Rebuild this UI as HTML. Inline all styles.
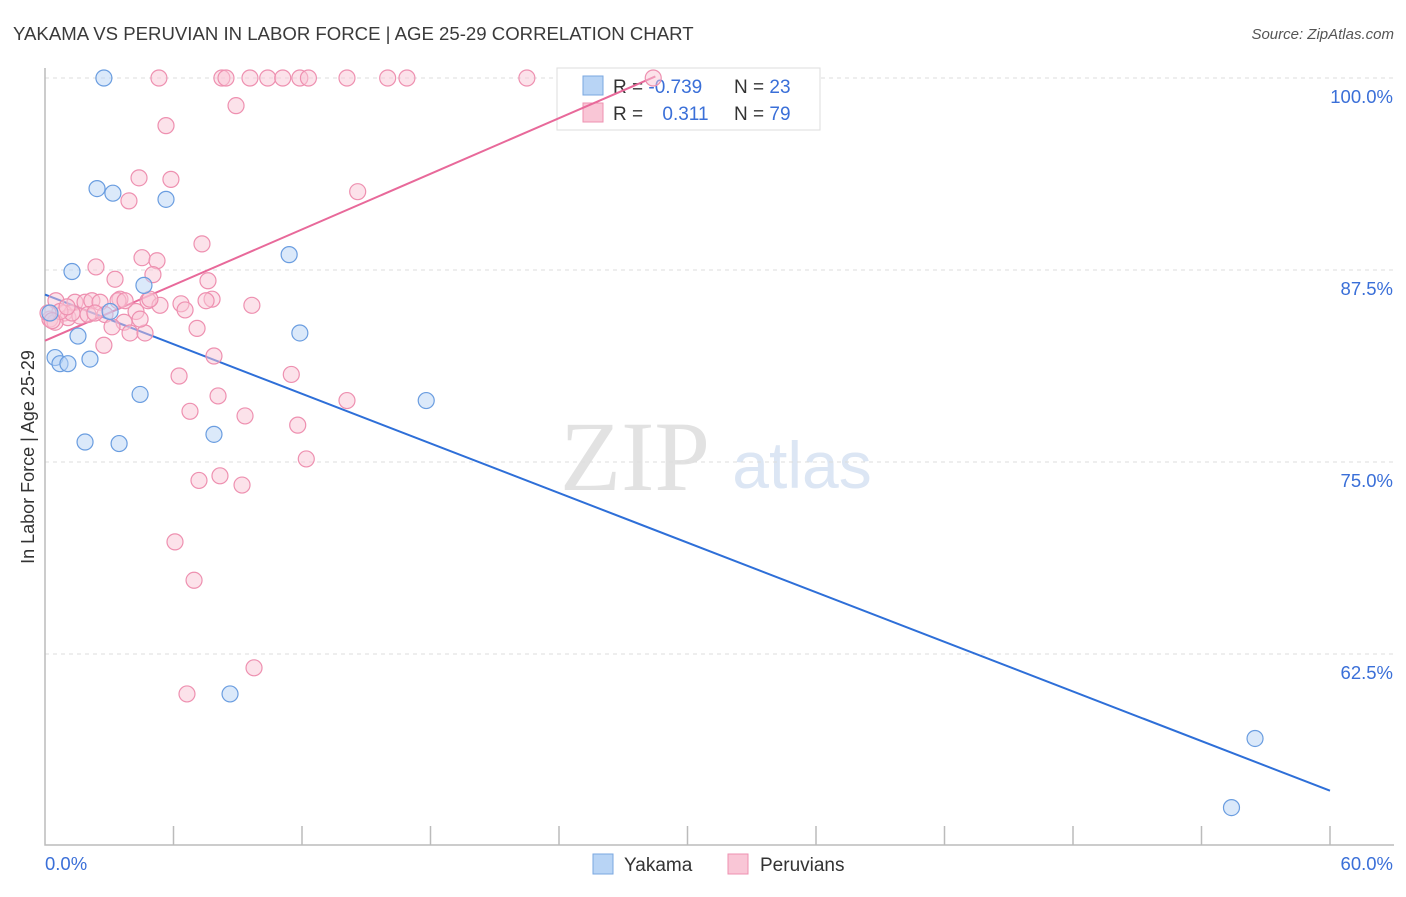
<!DOCTYPE html>
<html><head><meta charset="utf-8">
<style>
body{margin:0;background:#fff;font-family:"Liberation Sans",sans-serif;}
svg text{font-family:"Liberation Sans",sans-serif;}
</style></head>
<body>
<svg id="chart" width="1406" height="892" xmlns="http://www.w3.org/2000/svg">
<text x="13" y="40" font-size="18.6" fill="#3a3a3a">YAKAMA VS PERUVIAN IN LABOR FORCE | AGE 25-29 CORRELATION CHART</text>
<text x="1394" y="39" font-size="15" fill="#555" font-style="italic" text-anchor="end">Source: ZipAtlas.com</text>
<text x="34" y="457" font-size="18" fill="#333" text-anchor="middle" transform="rotate(-90 34 457)">In Labor Force | Age 25-29</text>
<g>
<text x="635" y="490" font-size="100" fill="#e2e2e2" font-family="Liberation Serif" text-anchor="middle" style="font-family:'Liberation Serif',serif">ZIP</text>
<text x="802" y="488" font-size="66" fill="#dce6f4" text-anchor="middle">atlas</text>
</g>
<g id="grid"></g>
<g id="axes"></g>
<g>
<rect x="557" y="68" width="263" height="62" fill="#fff" stroke="#ddd"/>
<rect x="583" y="76" width="20" height="19" fill="#b8d4f5" stroke="#7aa7e0"/>
<text x="613" y="93" font-size="19" fill="#333">R = <tspan fill="#3a6fd8">-0.739</tspan></text>
<text x="734" y="93" font-size="19" fill="#333">N = <tspan fill="#3a6fd8">23</tspan></text>
<rect x="583" y="103" width="20" height="19" fill="#f9c6d6" stroke="#ee90b0"/>
<text x="613" y="120" font-size="19" fill="#333">R = <tspan fill="#3a6fd8" dx="14">0.311</tspan></text>
<text x="734" y="120" font-size="19" fill="#333">N = <tspan fill="#3a6fd8">79</tspan></text>
</g>
<g id="lines"></g>
<g id="pts"></g>
<g>
<rect x="593" y="854" width="20" height="20" fill="#b8d4f5" stroke="#7aa7e0"/>
<text x="624" y="871" font-size="19" fill="#333">Yakama</text>
<rect x="728" y="854" width="20" height="20" fill="#f9c6d6" stroke="#ee90b0"/>
<text x="760" y="871" font-size="19" fill="#333">Peruvians</text>
</g>
</svg>
<script>
const yTicks=[100,87.5,75,62.5];
const yTickLabels=["100.0%","87.5%","75.0%","62.5%"];
const xTickLabels=["0.0%","60.0%"];
const yakamaX=[2.75,2.43,3.17,5.65,11.4,1.26,4.62,3.04,11.9,1.54,0.47,0.70,1.07,2.1,4.44,17.8,7.89,1.87,3.46,8.64,56.5,55.4,0.23];
const yakamaY=[100,92.8,92.5,92.1,88.5,87.4,86.5,84.8,83.4,83.2,81.8,81.4,81.4,81.7,79.4,79.0,76.8,76.3,76.2,59.9,57.0,52.5,84.7];
const peruX=[5.32,8.26,8.45,9.57,10.4,11.1,11.9,12.3,14.1,16.0,16.9,22.5,28.4,8.92,5.65,4.39,5.88,14.6,3.92,7.33,4.53,5.23,2.38,5.04,3.27,7.61,0.51,1.4,1.87,2.19,2.57,3.50,4.81,6.35,7.80,7.52,9.66,5.37,6.54,4.25,0.89,1.07,1.63,0.23,0.47,2.80,3.69,3.13,7.10,3.97,4.67,2.75,7.89,6.26,11.5,8.08,6.77,14.1,9.34,11.8,12.2,8.17,7.19,9.20,6.07,6.96,9.76,6.63,2.01,1.26,0.70,0.14,0.33,4.90,3.41,1.03,2.33,3.74,4.44];
const peruY=[100,100,100,100,100,100,100,100,100,100,100,100,100,98.2,96.9,93.5,93.4,92.6,92.0,89.2,88.3,88.1,87.7,87.2,86.9,86.8,85.5,85.4,85.4,85.5,85.4,85.6,85.5,85.3,85.6,85.5,85.2,85.2,84.9,84.8,84.7,84.4,84.5,84.3,84.1,84.6,84.1,83.8,83.7,83.4,83.4,82.6,81.9,80.6,80.7,79.3,78.3,79.0,78.0,77.4,75.2,74.1,73.8,73.5,69.8,67.3,61.6,59.9,84.6,84.7,84.8,84.7,84.2,85.6,85.5,85.1,84.7,85.5,84.3];
const yakamaTrendX=[0,60];
const yakamaTrendY=[85.9,53.6];
const peruTrendX=[0,28.5];
const peruTrendY=[82.9,100.1];
const X0=45,X1=1330,Y100=78,PX=192/12.5;
const xs=v=>X0+(v/60)*(X1-X0);
const ys=v=>Y100+(100-v)*PX;
const NS="http://www.w3.org/2000/svg";
function mk(parent,tag,attrs){const e=document.createElementNS(NS,tag);for(const k in attrs)e.setAttribute(k,attrs[k]);document.getElementById(parent).appendChild(e);return e;}
yTicks.forEach((t,i)=>{
  const l=mk('grid','line',{x1:X0,x2:1394,y1:ys(t),y2:ys(t),stroke:'#ddd','stroke-dasharray':'4,4'});
  
  
  const tx=mk('grid','text',{x:1393,y:ys(t)+25,'font-size':18.5,fill:'#3a6fd8','text-anchor':'end'});
  tx.textContent=yTickLabels[i];
  
  
});
const ax=mk('axes','path',{d:`M${X0} 68V845H1394`,stroke:'#bbb','stroke-width':1.5,fill:'none'});


for(let i=1;i<=10;i++){const t=mk('axes','line',{x1:xs(i*6),x2:xs(i*6),y1:826,y2:845,stroke:'#bbb','stroke-width':1.5});

}
[[0,'start',X0],[60,'end',1393]].forEach((a,i)=>{const t=mk('axes','text',{x:a[2],y:870,'font-size':18.5,fill:'#3a6fd8','text-anchor':a[1]});t.textContent=xTickLabels[i];

});
function pts(X,Y,fill,stroke,name){X.forEach((x,i)=>{const c=mk('pts','circle',{cx:xs(x),cy:ys(Y[i]),r:8,fill:fill,'fill-opacity':0.5,stroke:stroke,'stroke-width':1.2});

});}
pts(peruX,peruY,'#f9c6d6','#ee90b0','peruvian-point');
pts(yakamaX,yakamaY,'#b8d4f5','#6a9de0','yakama-point');
const l1=mk('lines','line',{x1:xs(yakamaTrendX[0]),y1:ys(yakamaTrendY[0]),x2:xs(yakamaTrendX[1]),y2:ys(yakamaTrendY[1]),stroke:'#2e6fd8','stroke-width':2});


const l2=mk('lines','line',{x1:xs(peruTrendX[0]),y1:ys(peruTrendY[0]),x2:xs(peruTrendX[1]),y2:ys(peruTrendY[1]),stroke:'#e8699a','stroke-width':2});


</script>
</body></html>
